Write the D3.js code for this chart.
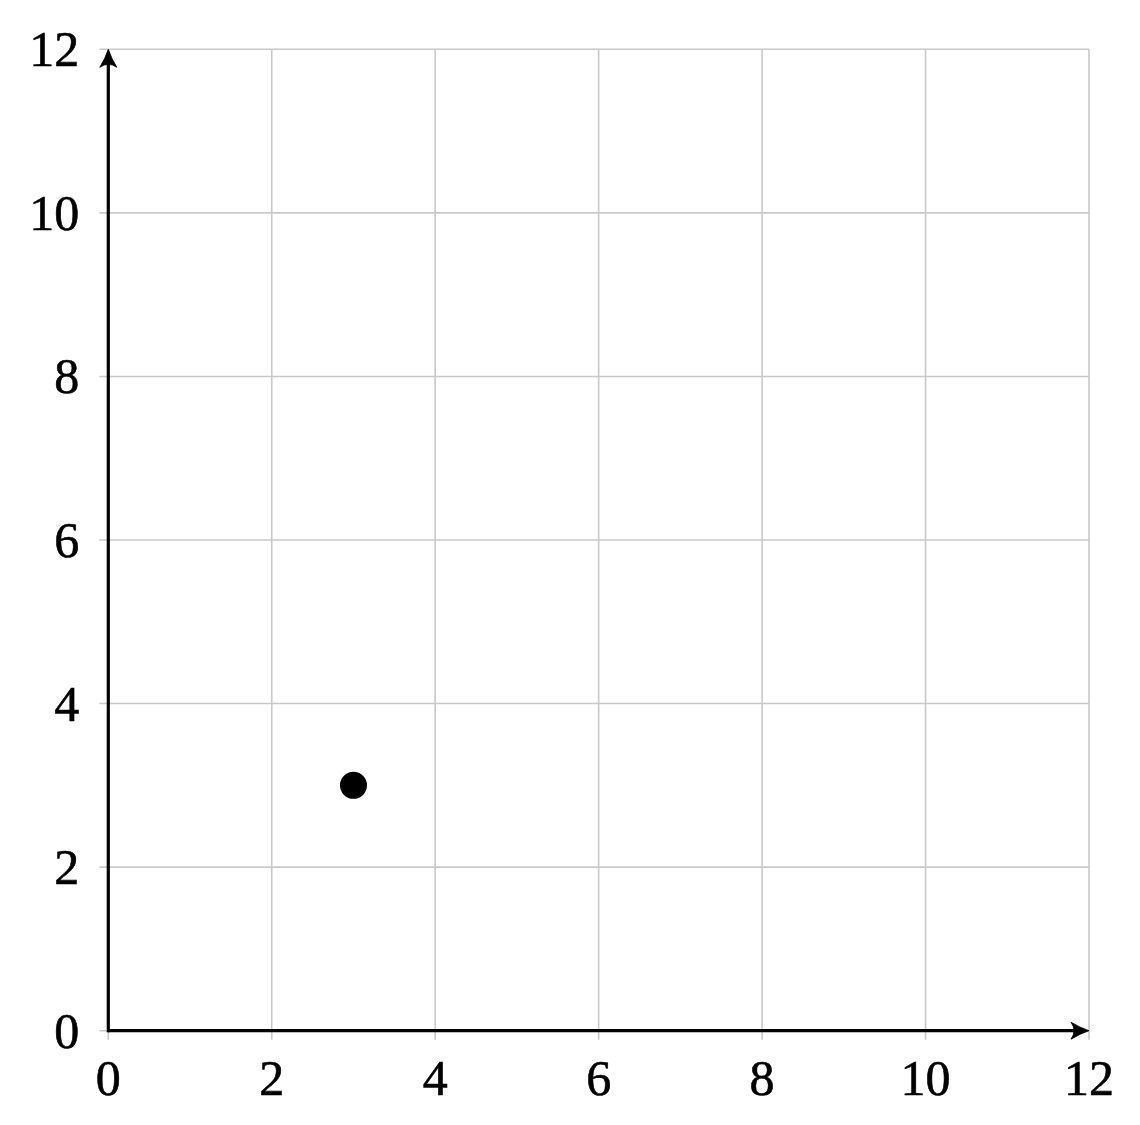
<!DOCTYPE html>
<html><head><meta charset="utf-8">
<script src="https://cdn.jsdelivr.net/npm/d3@7"></script>
<style>body{margin:0;background:#fff}svg{display:block}</style>
</head><body>
<svg id="c" width="1140" height="1125"></svg>
<script>
const xTicks = [0, 2, 4, 6, 8, 10, 12];
const yTicks = [0, 2, 4, 6, 8, 10, 12];
const pointsX = [3];
const pointsY = [3];

const svg = d3.select("#c");
const x = d3.scaleLinear().domain([0, 12]).range([108.3, 1089]);
const y = d3.scaleLinear().domain([0, 12]).range([1030.7, 49.3]);
const font = "'Liberation Serif', 'DejaVu Serif', serif";

// grid
const g = svg.append("g");
g.selectAll(".gx").data(xTicks).join("line")
  .attr("x1", d => x(d)).attr("x2", d => x(d))
  .attr("y1", y(12)).attr("y2", y(0) + 9)
  .attr("stroke", "#c8c8c8").attr("stroke-width", 1.6);
g.selectAll(".gy").data(yTicks).join("line")
  .attr("y1", d => y(d)).attr("y2", d => y(d))
  .attr("x1", x(0) - 9).attr("x2", x(12))
  .attr("stroke", "#c8c8c8").attr("stroke-width", 1.6);

// arrowheads
const defs = svg.append("defs");
defs.append("marker").attr("id", "arr")
  .attr("viewBox", "-22 -11 24 22").attr("refX", -10).attr("refY", 0)
  .attr("markerWidth", 24).attr("markerHeight", 22)
  .attr("markerUnits", "userSpaceOnUse").attr("orient", "auto")
  .append("path")
  .attr("d", "M0,0 Q-9,-3 -18,-8.5 Q-12,0 -18,8.5 Q-9,3 0,0Z")
  .attr("fill", "#000").attr("stroke", "#000").attr("stroke-width", 0.8)
  .attr("stroke-linejoin", "round");

// axes
svg.append("line").attr("x1", x(0)).attr("x2", x(12) - 10).attr("y1", y(0)).attr("y2", y(0))
  .attr("stroke", "#000").attr("stroke-width", 3.2).attr("marker-end", "url(#arr)");
svg.append("line").attr("x1", x(0)).attr("x2", x(0)).attr("y1", y(0) + 1.6).attr("y2", y(12) + 10)
  .attr("stroke", "#000").attr("stroke-width", 3.2).attr("marker-end", "url(#arr)");

// labels
svg.selectAll(".xl").data(xTicks).join("text")
  .attr("x", d => x(d)).attr("y", y(0) + 47)
  .attr("text-anchor", "middle").attr("dominant-baseline", "central")
  .attr("font-family", font).attr("font-size", 50).attr("fill", "#000")
  .attr("stroke", "#000").attr("stroke-width", 0.6)
  .text(d => d);
svg.selectAll(".yl").data(yTicks).join("text")
  .attr("x", x(0) - 29).attr("y", d => y(d))
  .attr("text-anchor", "end").attr("dominant-baseline", "central")
  .attr("font-family", font).attr("font-size", 50).attr("fill", "#000")
  .attr("stroke", "#000").attr("stroke-width", 0.6)
  .text(d => d);

// points
svg.selectAll(".pt").data(pointsX.map((v, i) => [v, pointsY[i]])).join("circle")
  .attr("cx", d => x(d[0])).attr("cy", d => y(d[1])).attr("r", 13.5)
  .attr("fill", "#000");
</script>
</body></html>
